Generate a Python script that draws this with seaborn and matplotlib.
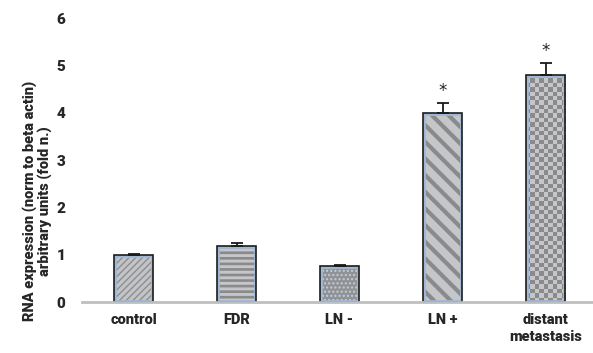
import matplotlib
matplotlib.use("Agg")
import matplotlib.pyplot as plt
from matplotlib.patches import Rectangle
import seaborn as sns
import pandas as pd
import numpy as np

categories = ["control", "FDR", "LN -", "LN +", "distant\nmetastasis"]
expression = [1.0, 1.19, 0.76, 4.0, 4.8]
errors = [0.01, 0.06, 0.03, 0.2, 0.24]
significant = [False, False, False, True, True]

# fill pattern per group: (hatch, hatch line width, base colour, hatch colour)
patterns = [
    ("/////", 1.0, "#c2c4c8", "#8e8e8e"),
    ("---", 1.9, "#c4c6ca", "#8a8a8a"),
    ("....", 1.0, "#8f9296", "#c8cbd0"),
    ("\\\\", 3.0, "#c4c6ca", "#8a8a8a"),
    ("checker", 0.0, "#c4c6ca", "#8a8a8a"),
]

sns.set_style("white")
plt.rcParams["font.family"] = ["Roboto", "DejaVu Sans"]
plt.rcParams["font.weight"] = "bold"

df = pd.DataFrame({"group": categories, "value": expression})

fig = plt.figure(figsize=(5.93, 3.53), dpi=100)
ax = fig.add_axes([82 / 593, 51 / 353, 511 / 593, 284 / 353])

sns.barplot(data=df, x="group", y="value", ax=ax, width=0.38,
            color="#c4c6ca", errorbar=None, saturation=1)

ax.set_xlim(-0.5, 4.46)
ax.set_ylim(0, 6)

# pixel size of one data unit, used for the checkerboard texture
px_x = ax.transData.transform((1, 0))[0] - ax.transData.transform((0, 0))[0]
px_y = ax.transData.transform((0, 1))[1] - ax.transData.transform((0, 0))[1]
cell = 4.4

for patch, (h, lw, base, hcol) in zip(list(ax.patches), patterns):
    x0, y0 = patch.get_x(), patch.get_y()
    w, ht = patch.get_width(), patch.get_height()
    patch.set_facecolor(base)
    patch.set_linewidth(0)
    if h == "checker":
        nx = max(1, int(round(w * px_x / cell)))
        ny = max(1, int(round(ht * px_y / cell)))
        tex = (np.add.outer(np.arange(ny), np.arange(nx)) % 2).astype(float)
        cmap = matplotlib.colors.ListedColormap([base, hcol])
        img = ax.imshow(tex, extent=[x0, x0 + w, y0, y0 + ht], aspect="auto",
                        cmap=cmap, interpolation="nearest", origin="lower",
                        zorder=2.1)
        img.set_clip_path(patch)
    else:
        plt.rcParams["hatch.linewidth"] = lw
        ax.add_patch(Rectangle((x0, y0), w, ht, fill=False, hatch=h,
                               edgecolor=hcol, linewidth=0, zorder=2.1))
    # light blue inner rim (clipped to the bar) and dark outline
    rim = Rectangle((x0, y0), w, ht, fill=False, edgecolor="#9fb8d8",
                    linewidth=3.4, zorder=2.2)
    ax.add_patch(rim)
    rim.set_clip_path(patch)
    ax.add_patch(Rectangle((x0, y0), w, ht, fill=False, edgecolor="#1c1c1c",
                           linewidth=1.2, zorder=2.3))

xpos = np.arange(len(categories))
ax.errorbar(xpos, expression, yerr=[np.zeros(len(errors)), errors], fmt="none",
            ecolor="#1a1a1a", elinewidth=1.3, capsize=4, capthick=1.3, zorder=4)

for x, v, e, s in zip(xpos, expression, errors, significant):
    if s:
        ax.text(x, v + e + 0.07, "*", ha="center", va="bottom", fontsize=12,
                fontweight="normal", color="#222222", family="DejaVu Sans")

ax.set_xlim(-0.5, 4.46)
ax.set_ylim(0, 6)
ax.set_yticks(range(0, 7))
ax.set_xlabel("")
ax.set_ylabel("RNA expression (norm to beta actin)\narbitrary units (fold n.)",
              fontsize=10.5, fontweight="heavy", linespacing=1.05, va="center")
ax.yaxis.set_label_coords(-0.088, 0.356)
ax.tick_params(axis="y", length=0, pad=12, labelsize=11)
ax.tick_params(axis="x", length=0, pad=8, labelsize=10.5)
for lab in ax.get_xticklabels() + ax.get_yticklabels():
    lab.set_fontweight("heavy")
for lab in ax.get_xticklabels():
    lab.set_linespacing(1.25)

sns.despine(ax=ax, left=True)
ax.spines["bottom"].set_color("#bfbfbf")
ax.spines["bottom"].set_linewidth(2)

fig.savefig("out.png", dpi=100)
